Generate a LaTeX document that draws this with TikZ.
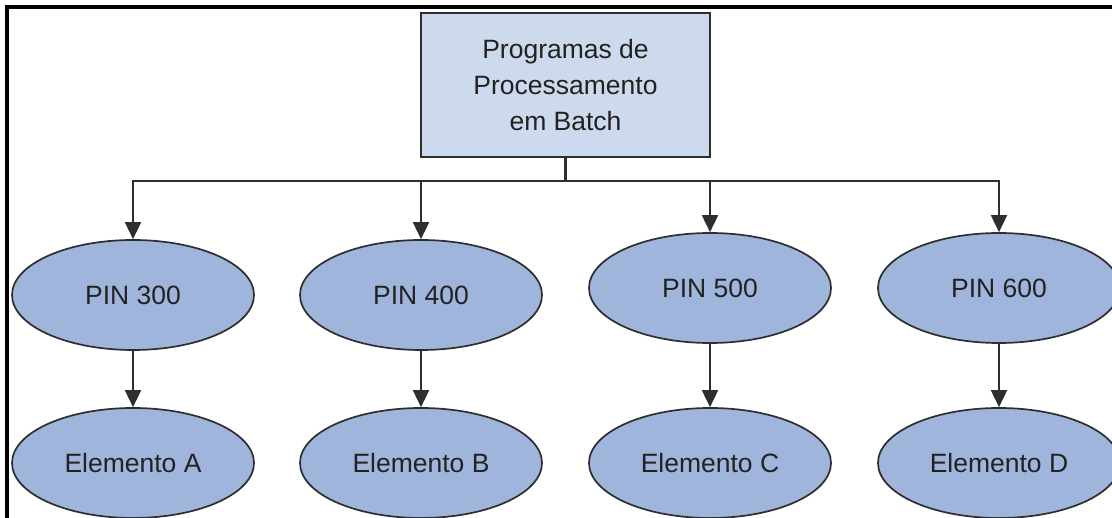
\documentclass[tikz,border=0pt]{standalone}
\usepackage{fontspec}
\setmainfont{Liberation Sans}
\usetikzlibrary{shapes.geometric}
\usetikzlibrary{arrows.meta}

\definecolor{boxfill}{HTML}{CDD9EC}
\definecolor{pinfill}{HTML}{9FB5DB}
\definecolor{linegray}{HTML}{2E2E2E}
\definecolor{textgray}{HTML}{222222}

\begin{document}
\begin{tikzpicture}[x=1pt,y=-1pt,
  font=\fontsize{26.5}{36}\selectfont,
  batch/.style={draw=linegray,line width=2pt,fill=boxfill,text=textgray,
    minimum width=289pt,minimum height=144pt,inner sep=0pt,align=center},
  pin/.style={ellipse,draw=linegray,line width=1.7pt,fill=pinfill,text=textgray,
    minimum width=242pt,minimum height=110pt,inner sep=0pt},
  arr/.style={draw=linegray,line width=1.8pt,-{Triangle[width=16pt,length=17pt]}}]
 \useasboundingbox (0,0) rectangle (1112,518);
 % frame
 \draw[line width=3.5pt](7,520)--(7,7)--(1114,7);
 % top box
 \node[batch] (batch) at (565.5,85) {Programas de\\Processamento\\em Batch};
 \coordinate (bar) at (565.5,181);
 % programs
 \node[pin] (p300) at (133,295) {PIN 300};
 \node[pin] (p400) at (421,295) {PIN 400};
 \node[pin] (p500) at (710,288) {PIN 500};
 \node[pin] (p600) at (999,288) {PIN 600};
 % elements
 \node[pin] (ea) at (133,463) {Elemento A};
 \node[pin] (eb) at (421,463) {Elemento B};
 \node[pin] (ec) at (710,463) {Elemento C};
 \node[pin] (ed) at (999,463) {Elemento D};
 % connectors
 \draw[draw=linegray,line width=2.4pt](batch.south)--(bar);
 \draw[arr](bar)-|(p300.north);
 \draw[arr](bar)-|(p400.north);
 \draw[arr](bar)-|(p500.north);
 \draw[arr](bar)-|(p600.north);
 \draw[arr](p300)--(ea);
 \draw[arr](p400)--(eb);
 \draw[arr](p500)--(ec);
 \draw[arr](p600)--(ed);
\end{tikzpicture}
\end{document}
